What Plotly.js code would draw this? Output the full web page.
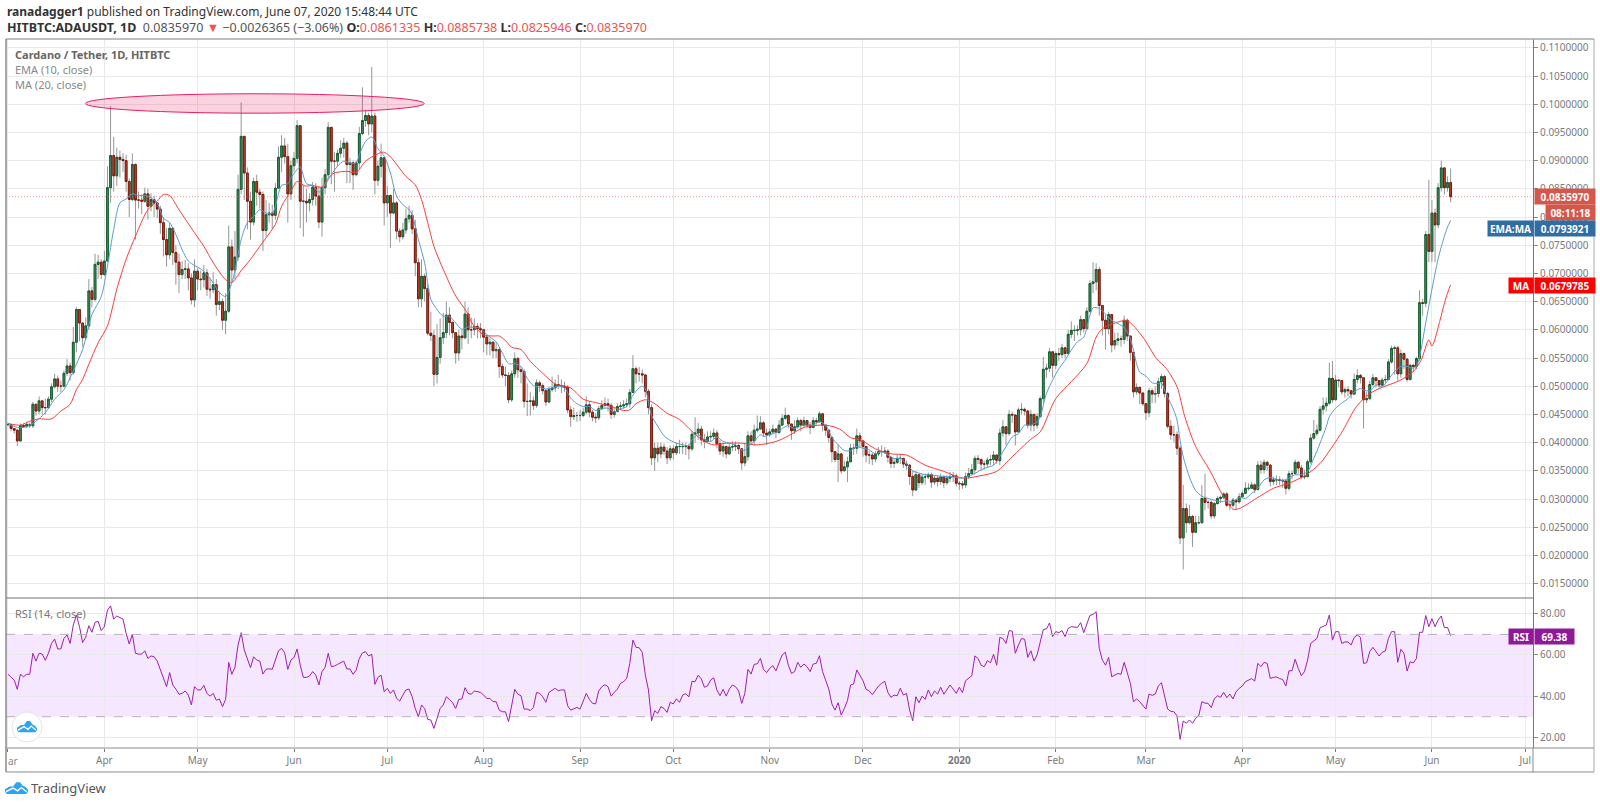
<!DOCTYPE html>
<html><head><meta charset="utf-8">
<script src="https://cdn.plot.ly/plotly-3.0.1.min.js"></script>
<style>html,body{margin:0;padding:0;background:#fff}#c{width:1600px;height:805px}</style>
</head><body><div id="c"></div>
<script>
// values are price x 10000, day 0 = 2019-03-01
const closes=[432,425,422,403,430,429,432,430,468,456,
474,462,462,477,499,513,500,500,523,536,
524,578,636,612,586,607,669,654,716,720,
698,722,852,909,873,906,902,900,863,831,
893,830,830,828,841,819,831,825,814,790,
760,733,780,737,720,698,707,708,692,653,
704,690,689,701,672,671,680,645,650,617,
633,747,706,729,849,943,878,828,791,863,
844,840,776,804,807,803,851,906,926,907,
841,891,904,962,828,828,825,831,853,837,
791,852,875,959,899,899,913,922,931,893,
896,875,896,948,971,980,965,979,865,890,
905,825,838,807,825,775,765,777,797,803,
779,719,655,695,673,594,590,521,551,586,
595,626,613,595,559,589,586,628,600,600,
606,602,600,587,575,578,563,565,535,520,
519,476,522,549,529,526,473,473,474,466,
506,501,492,472,494,497,503,501,500,498,
458,446,448,448,448,454,467,454,445,444,
460,466,469,466,450,455,464,465,467,469,
489,531,522,522,520,491,462,373,390,380,
392,385,373,389,382,393,393,393,393,389,
415,417,424,405,402,410,411,417,398,385,
393,380,392,393,395,389,364,375,412,403,
422,424,435,417,414,419,424,418,431,443,
448,433,421,428,439,431,439,431,427,439,
437,451,431,422,409,384,370,380,350,357,
366,390,390,412,403,393,378,378,371,380,
384,384,385,374,363,365,372,372,362,360,
340,316,343,329,339,339,343,330,337,331,
339,329,337,340,341,328,327,325,340,345,
352,372,370,362,362,369,370,378,368,417,
428,416,450,449,419,458,459,456,431,450,
431,446,478,530,532,561,537,558,556,568,
558,592,599,599,600,618,602,633,682,685,
707,643,617,602,627,573,581,584,583,617,
589,560,490,498,488,469,453,492,486,487,
508,517,487,429,414,414,390,231,283,258,
269,241,258,258,301,294,294,270,292,301,
303,309,289,289,298,295,304,310,319,319,
325,317,360,352,365,360,331,334,334,333,
332,319,345,345,365,355,339,340,366,408,
416,422,459,465,470,514,476,511,510,490,
494,492,486,512,519,515,476,478,503,515,
510,502,511,512,543,567,568,522,558,548,
512,537,535,549,648,647,769,739,807,786,
852,887,852,861,836];
const highs=[436,433,426,424,434,434,437,436,472,468,
482,476,478,482,505,522,519,510,528,548,
542,605,640,632,607,622,690,676,735,733,
725,740,890,997,942,923,918,913,910,868,
913,895,845,840,852,850,842,838,826,820,
800,780,790,780,750,735,722,724,718,700,
725,710,705,715,708,692,702,690,668,655,
665,785,760,775,875,1003,925,888,845,870,
875,850,845,830,825,822,860,925,945,940,
930,900,915,972,880,855,850,842,862,860,
855,870,885,968,925,915,920,936,940,935,
905,900,900,960,1030,990,985,1066,985,900,
930,905,855,840,850,828,780,790,815,820,
812,795,727,725,700,680,632,600,610,620,
630,650,640,615,590,600,600,650,640,622,
620,612,612,602,590,585,580,578,568,540,
535,525,528,560,552,535,530,505,490,482,
512,510,505,495,500,517,512,520,512,508,
502,465,462,455,458,462,482,473,458,452,
465,475,480,478,470,462,470,472,475,478,
495,555,535,534,530,520,495,468,400,400,
400,398,392,395,395,400,405,400,400,398,
420,445,435,430,415,420,420,425,422,405,
400,395,398,402,402,398,390,400,420,420,
432,448,447,438,425,425,432,425,440,450,
462,450,430,440,445,442,446,440,437,445,
444,455,440,430,418,412,385,397,382,368,
375,398,398,425,418,398,392,385,382,385,
392,395,392,388,375,372,378,378,372,368,
362,350,350,345,345,345,347,347,342,342,
345,342,342,348,348,345,332,332,347,355,
362,377,378,372,368,374,378,385,378,425,
440,425,458,455,432,462,470,462,458,458,
448,452,482,552,540,568,545,562,568,575,
570,600,615,608,608,625,610,640,688,720,
718,712,635,626,632,625,595,595,590,625,
620,570,560,505,498,478,470,497,496,500,
515,522,520,490,440,430,420,395,325,292,
290,272,270,270,325,345,298,298,295,305,
306,312,312,295,302,298,310,315,330,328,
330,328,367,368,370,368,362,340,342,340,
336,332,350,350,370,368,360,352,370,415,
440,432,465,480,480,542,545,520,512,510,
498,500,492,522,530,522,515,490,510,522,
515,510,515,520,548,572,572,572,565,560,
550,540,540,552,670,655,775,866,830,815,
860,900,888,872,886];
const lows=[429,420,416,394,402,426,426,426,426,448,
450,450,450,460,472,496,490,490,498,518,
510,520,560,580,570,582,600,640,650,690,
690,695,720,825,845,855,870,880,845,800,
828,760,815,805,825,795,810,800,798,770,
730,712,725,715,680,665,690,690,670,645,
640,670,670,675,660,655,665,625,635,600,
592,630,685,690,722,840,830,778,760,785,
820,815,740,765,790,778,795,850,880,895,
790,830,880,895,780,765,790,810,820,820,
780,765,840,870,858,845,890,905,905,860,
860,848,872,885,945,960,945,950,840,855,
870,785,800,745,805,760,755,760,770,790,
770,695,640,640,650,590,580,500,505,540,
575,585,590,585,540,545,565,583,575,585,
590,585,585,560,555,555,550,550,515,515,
500,470,472,515,515,505,462,447,448,458,
462,490,485,465,470,490,490,495,488,490,
452,428,440,437,438,445,450,445,438,435,
440,458,462,455,442,444,455,458,460,462,
462,488,505,508,505,480,450,360,350,365,
372,378,362,368,370,378,380,380,378,370,
385,400,405,395,390,400,402,405,390,378,
375,372,378,385,385,380,352,358,368,395,
395,418,425,410,395,410,415,408,415,430,
440,425,405,415,425,420,428,425,415,425,
432,435,420,412,400,365,365,330,345,350,
330,365,378,380,390,375,365,362,360,365,
376,375,380,365,355,355,362,362,355,352,
325,305,315,320,325,325,335,320,325,322,
325,320,325,330,330,322,316,318,320,335,
345,345,362,350,352,355,360,360,362,360,
410,395,412,435,395,418,450,448,425,420,
420,425,445,470,515,525,515,530,545,550,
550,555,585,580,590,590,595,600,630,665,
670,625,590,565,592,560,565,572,570,575,
580,545,480,485,468,465,440,445,470,470,
480,495,480,425,405,400,378,220,175,240,
255,215,250,255,256,280,283,265,265,290,
293,300,285,280,285,280,292,305,310,315,
318,310,315,345,345,350,322,325,325,325,
320,308,315,335,345,345,335,335,338,362,
405,412,420,450,455,467,470,475,498,485,
480,482,478,485,505,505,425,470,475,500,
498,495,500,505,510,540,520,510,515,530,
508,510,525,530,545,625,640,720,720,720,
780,845,840,845,826];
const rsi=[50.6,49,47.8,43.3,50.6,49.4,50.6,50.6,60.8,57,60.8,60.4,57.4,60.8,65.6,67.7,62.9,62.9,68,69.7,
65.6,74.5,79.4,73.7,66,68.5,74.2,71,75.8,76.3,71.8,73.7,81.8,83.8,77.4,78.9,78.3,77.4,70.5,65.3,
70,60.8,60.4,60.4,62,58.3,59.5,59.1,57,53,48.1,44.6,51.4,45.4,43.4,40.9,41.3,42.5,40.5,35.7,
44.6,43,43,45.2,41.3,40,41.3,38,38.6,34.9,38.4,56.4,50.6,54,64.8,70.8,62.4,57.5,53.8,59.1,
57.5,57,50.7,53,53.3,53,57.5,62,63.2,61,53,57.5,58.7,62.9,55,49.1,49.1,49.8,51.9,50.2,
45.4,51.9,54,60.8,54.3,54.6,55.4,56.4,57,53.2,53.2,50.6,52.7,58.3,61,61.6,59.5,60.3,45.7,49.1,
50.2,42.1,43.8,41.3,43,38.9,37.6,40.5,43,43.4,39.7,34,30,35.7,34,28.7,28.4,24.3,29.2,34,
35.7,39.7,38.4,36.8,34,38.4,38.6,44.1,41.3,40.9,42.5,42,41.8,40.5,38.9,38.9,37.3,37.3,33.2,
32.4,32.4,27.6,36.5,43.3,40.9,40.2,33.7,33.7,33,34.5,41.8,41.3,39.7,37,41.8,42.6,43.8,42.6,43,
43,35.3,33.2,34,34.5,33.7,37.3,41.3,38.4,36.5,36.2,42.5,44.6,45.5,44.6,40,41.8,43.4,46.2,47,
48.6,55.9,67.2,63.7,63.5,61.3,50.2,43,28,32.9,31.6,34.9,34,32.1,37,36.2,38.7,37,40.5,41.2,
39.6,47.2,47,50.2,48.3,44.3,44.9,47.8,48.9,43,40.2,43.3,40,43.4,45.4,44.6,42.5,36.5,41.3,53,
50.7,55.4,55.7,58.3,53,51.4,53.5,54.8,52.3,56.7,60,61.3,55,51,51.9,56.4,54,55.6,54.3,51.9,
55.6,55.9,59.6,51.9,47.8,43.4,36.2,33.2,36.8,30.8,34,37.8,45.4,45.9,52.7,50.2,47.5,43.3,42.5,40.7,
43,44.9,46.2,47.2,41.8,39.4,40.5,40.2,43.8,40.5,41.3,33.2,28,39.7,36.8,40,38.4,43,39.7,42.5,
41,44.3,40.9,43.4,45.4,43.4,41.3,44.3,41.7,47.5,48.9,49.9,59.5,58.3,55,54.3,57.2,56.2,60.3,55,68.5,
68,65.6,71.8,71.6,60.8,64.8,68,67.6,58.8,62,57,60,65.6,72.4,72.6,75.5,68.9,71.3,70.8,71.8,
68.9,72.9,73.7,73.4,73.4,75.7,70.8,75,79.2,79.7,81,63.2,57.5,55,58.8,49.4,50.2,51,50.6,56.4,
51.4,46.2,37.3,38.6,37.3,35.3,33.7,41,40.4,41,45,46.5,40.5,33.7,32.6,32.4,30.5,19,27.9,26.8,
28.4,26.8,29.2,30.5,37.3,36.6,36.5,34.4,38.6,40.2,39.4,41.8,39.2,41,38.6,42.1,43.8,44.9,47,47.8,
48.5,47.3,55.9,54.3,56.4,55.9,48.6,49.1,49.3,48.5,48.1,44.9,52.3,52.3,57.9,53.5,49.9,51.9,57.5,65.6,
66.8,68,73.2,74,74.5,79.4,67.2,71.3,71.3,65.6,66.3,66.3,64.8,68.5,69.7,68.5,55.9,56.2,61.6,63.7,
61.7,59.5,61.3,61.9,68,71.3,71.3,56.4,62.7,60.8,52.2,56.7,56.1,58.3,71,71,79.1,73.7,77.6,73.7,
77,78.9,73.2,73.4,69.38];
const emaDays=[0,3,6,9,12,15,18,21,24,27,30,32,34,36,38,40,42,44,46,48,50,52,54,56,58,60,62,64,66,68,70,72,73,75,77,79,81,83,85,86,88,90,91,93,94,96,98,100,102,104,106,108,110,112,113,115,117,119,121,123,125,127,129,130,132,134,136,138,140,142,144,146,148,150,152,153,155,157,159,161,163,165,167,169,171,173,175,177,179,181,183,185,187,189,191,193,195,197,199,201,203,204,205,207,209,211,213,215,217,219,220,222,224,226,228,230,232,234,236,237,238,240,242,243,245,247,249,251,253,255,257,259,261,263,265,267,269,271,273,275,277,279,281,283,285,287,289,291,293,295,297,299,301,303,305,307,309,311,313,315,317,319,321,323,325,327,329,331,332,334,336,338,340,342,344,346,348,349,351,353,355,357,359,361,363,364,366,368,370,371,372,374,375,376,377,378,380,382,384,386,388,390,392,394,396,398,400,402,404,406,408,410,412,414,416,418,420,422,424,425,427,429,431,433,435,436,438,440,442,444,446,448,450,452,453,454,456,458,460,462,463,464];
const emaVals=[434,427,428,438,453,477,494,527,565,627,659,713,778,825,832,841,838,838,834,825,798,790,769,742,722,714,708,698,683,666,659,683,704,760,790,801,813,807,806,819,856,859,869,884,889,859,856,844,857,875,890,899,896,896,910,934,942,921,908,878,837,822,813,804,760,719,654,636,624,624,612,601,605,604,604,597,587,579,559,540,540,535,514,501,498,495,497,500,497,479,469,464,464,457,460,461,454,460,464,484,497,500,495,448,429,412,404,399,396,395,405,414,405,402,410,402,399,396,387,386,393,402,414,411,414,418,425,430,425,430,431,431,437,431,409,396,386,386,393,390,387,380,384,378,372,372,362,350,346,343,343,341,340,340,338,337,341,345,352,356,360,375,393,410,416,431,431,437,446,487,511,531,546,564,579,587,626,639,638,628,617,611,604,584,540,525,518,506,505,506,493,469,457,440,404,375,339,315,305,301,298,295,297,295,303,301,310,319,334,338,335,333,337,343,343,349,372,399,428,446,461,470,478,490,496,493,492,502,499,512,526,535,535,532,535,552,612,672,726,766,782,794];
const maDays=[0,4,7,10,14,17,20,22,24,26,29,32,35,38,41,45,48,50,52,55,60,63,66,70,72,75,78,81,83,86,88,91,93,95.5,98,101,103,105,109,112,115,117.5,120.7,122.8,128,131,133,135,137,140,144,147.5,149.6,153,156,158,160,162,165,168,172,176,181,185,189,194,198,200,202,205,207.5,212,216,220,224,227,231,236,241,247,251,256,263,267.5,271,274.5,279,284,289,295,301,307,312.5,318,323,329,332,337,342,347,350,352,356,360,365,369.4,372.6,376,378.5,382,386.5,391,394,396,401.5,407,412,417.6,422,425.6,429.4,433.7,438,442,447.6,452,454.5,457,458,460.5,462,463,464];
const maVals=[434,431,438,442,442,456,468,494,512,539,577,607,672,725,766,813,828,840,838,813,772,748,719,689,684,705,725,748,763,787,819,846,863,855,856,853,869,878,881,879,899,908,915,908,872,857,831,790,748,707,660,632,609,591,589,589,581,569,565,544,523,504,497,477,471,464,457,458,469,476,471,452,441,420,402,396,399,399,396,402,412,427,431,424,409,404,389,380,378,360,349,337,341,349,375,406,419,478,508,540,587,602,612,616,587,549,531,499,446,393,351,304,282,283,301,319,328,343,363,390,422,464,487,498,510,526,546,582,571,615,647,665,679.8];
const priceTicks=[0.015,0.02,0.025,0.03,0.035,0.04,0.045,0.05,0.055,0.06,0.065,0.07,0.075,0.08,0.085,0.09,0.095,0.1,0.105,0.11];
const rsiTicks=[20,40,60,80];
const monthDates=['2019-04-01','2019-05-01','2019-06-01','2019-07-01','2019-08-01','2019-09-01','2019-10-01','2019-11-01','2019-12-01','2020-01-01','2020-02-01','2020-03-01','2020-04-01','2020-05-01','2020-06-01','2020-07-01'];
const monthNames=['Apr','May','Jun','Jul','Aug','Sep','Oct','Nov','Dec','<b>2020</b>','Feb','Mar','Apr','May','Jun','Jul'];

const UNIT=0.0001, START=Date.UTC(2019,2,1), DAY=864e5;
const dayStr=d=>new Date(START+d*DAY).toISOString().slice(0,19).replace('T',' ');
const n=Math.min(closes.length,highs.length,lows.length);
const X=[],O=[],H=[],L=[],C=[],BH=[],BL=[];
for(let i=0;i<n;i++){
  const o=i?closes[i-1]:closes[0], c=closes[i];
  X.push(dayStr(i));O.push(o*UNIT);C.push(c*UNIT);
  H.push(Math.max(highs[i],o,c)*UNIT);L.push(Math.min(lows[i],o,c)*UNIT);
  BH.push(Math.max(o,c)*UNIT);BL.push(Math.min(o,c)*UNIT);
}
// a small annotation-free fix: maDays must line up with maVals
const maN=Math.min(maDays.length,maVals.length), emaN=Math.min(emaDays.length,emaVals.length);
const WICK='#969696';
const traces=[
 {type:'candlestick',x:X,open:O,high:H,low:L,close:C,xaxis:'x',yaxis:'y',whiskerwidth:0,
  increasing:{line:{color:WICK,width:1},fillcolor:WICK},decreasing:{line:{color:WICK,width:1},fillcolor:WICK},hoverinfo:'skip',showlegend:false},
 {type:'candlestick',x:X,open:O,high:BH,low:BL,close:C,xaxis:'x',yaxis:'y',whiskerwidth:0,
  increasing:{line:{color:'#14602f',width:1},fillcolor:'#4b8a68'},decreasing:{line:{color:'#7d1a0c',width:1},fillcolor:'#c8402c'},hoverinfo:'skip',showlegend:false},
 {type:'scatter',mode:'lines',x:maDays.slice(0,maN).map(dayStr),y:maVals.slice(0,maN).map(v=>v*UNIT),xaxis:'x',yaxis:'y',line:{color:'#ff3b3b',width:1,shape:'spline',smoothing:0.8},hoverinfo:'skip',showlegend:false},
 {type:'scatter',mode:'lines',x:emaDays.slice(0,emaN).map(dayStr),y:emaVals.slice(0,emaN).map(v=>v*UNIT),xaxis:'x',yaxis:'y',line:{color:'#5a9bd0',width:1,shape:'spline',smoothing:0.8},hoverinfo:'skip',showlegend:false},
 {type:'scatter',mode:'lines',x:rsi.map((_,i)=>dayStr(i)),y:rsi,xaxis:'x',yaxis:'y2',line:{color:'#9c1fb0',width:1},hoverinfo:'skip',showlegend:false}
];
const PL=6,PR=1533,PT=38.5,PB=748,DIV=598;
const W=PR-PL,Ht=PB-PT;
const px=x=>(x-PL)/W, py=y=>(PB-y)/Ht;
const FONT='"Noto Sans",sans-serif';
const ann=(text,x,y,o={})=>({text,x:px(x),y:py(y),xref:'paper',yref:'paper',xanchor:'left',yanchor:'middle',showarrow:false,borderpad:0,
  font:{family:FONT,size:o.size||11,color:o.color||'#555'}});
const tag=(text,x0,x1,y,bg,size)=>Object.assign(ann(text,x0,y,{color:'#fff',size:size||10}),{bgcolor:bg,width:x1-x0,height:15,align:'center'});
const S='#ef5350';
const annotations=[
 ann('<b>ranadagger1</b> published on TradingView.com, June 07, 2020 15:48:44 UTC',6,11,{size:12,color:'#333'}),
 ann('<b>HITBTC:ADAUSDT, 1D</b>  <span style="color:#555">0.0835970</span> <span style="color:'+S+'">▼</span> <span style="color:#555">−0.0026365 (−3.06%)</span> <b>O:</b><span style="color:'+S+'">0.0861335</span> <b>H:</b><span style="color:'+S+'">0.0885738</span> <b>L:</b><span style="color:'+S+'">0.0825946</span> <b>C:</b><span style="color:'+S+'">0.0835970</span>',6,27,{size:12.5,color:'#333'}),
 ann('<b>Cardano / Tether, 1D, HITBTC</b>',14,54,{size:11,color:'#666'}),
 ann('EMA (10, close)',14,69,{size:11,color:'#888'}),
 ann('MA (20, close)',14,84,{size:11,color:'#888'}),
 ann('RSI (14, close)',14,613,{size:11,color:'#777'}),
 ann('ar',6.5,761.5,{size:10,color:'#888'}),
 tag('<b>0.0835970</b>',1534,1594,196.5,'#d4574a'),
 tag('<b>08:11:18</b>',1545,1594,212.5,'#d4574a'),
 tag('<b>EMA:MA</b>',1487,1532,228,'#2f6da4'),
 tag('<b>0.0793921</b>',1534,1594,228,'#2f6da4'),
 tag('<b>MA</b>',1508,1532,285,'#ff0000'),
 tag('<b>0.0679785</b>',1534,1594,285,'#ff0000'),
 tag('<b>RSI</b>',1508,1532,636,'#8e1a99'),
 tag('<b>69.38</b>',1534,1573,636,'#8e1a99'),
 ann('TradingView',30,788,{size:13,color:'#555'})
];
const logoBody=[[-1,.6],[-1,.2],[-.6,-.25],[-.3,-.25],[-.02,-.95],[.3,-.95],[.55,-.35],[.8,-.15],[1,.3],[1,.6],[.85,1],[-.85,1]];
const logoStripe=[[-.9,.62],[-.3,.02],[.1,.48],[.42,-.08],[.88,.62]];
const scaled=(pts,cx,cy,hw,hh)=>pts.map(p=>(px(cx+p[0]*hw))+','+(py(cy+p[1]*hh)));
const logo=(cx,cy,hw,hh)=>[
 {type:'path',xref:'paper',yref:'paper',path:'M'+scaled(logoBody,cx,cy,hw,hh).join('L')+'Z',fillcolor:'#2ea3f2',line:{width:0}},
 {type:'path',xref:'paper',yref:'paper',path:'M'+scaled(logoStripe,cx,cy,hw,hh).join('L'),line:{color:'#fff',width:1.3}}
];
const line=(x0,y0,x1,y1,color,w,dash)=>({type:'line',xref:'paper',yref:'paper',x0:px(x0),y0:py(y0),x1:px(x1),y1:py(y1),line:{color,width:w||1,dash:dash||'solid'}});
const shapes=[
 {type:'rect',xref:'paper',yref:'y2',x0:0,x1:1,y0:30,y1:70,fillcolor:'rgba(153,21,255,0.10)',line:{width:0},layer:'below'},
 {type:'line',xref:'paper',yref:'y2',x0:0,x1:1,y0:70,y1:70,line:{color:'#b8b0bc',width:1,dash:'dash'}},
 {type:'line',xref:'paper',yref:'y2',x0:0,x1:1,y0:30,y1:30,line:{color:'#b8b0bc',width:1,dash:'dash'}},
 {type:'line',xref:'paper',yref:'y',x0:0,x1:1,y0:0.083597,y1:0.083597,line:{color:'rgba(224,88,76,0.75)',width:0.8,dash:'1px,2px'}},
 {type:'circle',xref:'x',yref:'y',x0:dayStr(24.9),x1:dayStr(133.9),y0:0.09841,y1:0.10185,fillcolor:'rgba(233,30,99,0.2)',line:{color:'#e91e63',width:1}},
 line(PL,DIV,PR,DIV,'#a0a0a0',1.5),
 line(PL,PT,1594,PT,'#a8a8a8',1.5),
 line(PL,PT,PL,772,'#8a8a8a',1.5),
 line(PL,772,1594,772,'#8a8a8a',1),
 line(1594,PT,1594,772,'#a8a8a8',1),
 line(PL,PB,PR,PB,'#8a8a8a',1),
 line(PR,PB,PR,772,'#8a8a8a',1),
 line(PR,PB,1594,PB,'#8a8a8a',1),
 {type:'circle',xref:'paper',yref:'paper',x0:px(12),x1:px(42),y0:py(742),y1:py(712),fillcolor:'#fff',line:{color:'#e4e4e4',width:1}}
].concat(logo(27,726.5,10,5.8),logo(16.5,788,11.5,6));
const tickFont={family:FONT,size:10,color:'#7a7a7a'};
const layout={
 width:1600,height:805,autosize:false,paper_bgcolor:'#fff',plot_bgcolor:'#fff',
 margin:{l:PL,r:1600-PR,t:PT,b:805-PB,pad:0},showlegend:false,boxmode:'overlay',boxgap:0.18,
 xaxis:{type:'date',domain:[0,1],anchor:'y2',range:['2019-02-28 08:40:00','2020-07-03 12:00:00'],rangeslider:{visible:false},
   tickmode:'array',tickvals:monthDates.concat(['2019-03-01']),ticktext:monthNames.concat(['']),showgrid:true,gridcolor:'#e9e9e9',gridwidth:1,
   ticks:'outside',ticklen:3,tickcolor:'#777',tickfont:tickFont,showline:false,zeroline:false,automargin:false},
 yaxis:{domain:[(PB-DIV)/Ht,1],anchor:'x',side:'right',range:[0.012431,0.11156],tickmode:'array',tickvals:priceTicks,ticktext:priceTicks.map(v=>v.toFixed(7)),
   showgrid:true,gridcolor:'#e9e9e9',gridwidth:1,ticks:'outside',ticklen:4,tickcolor:'#888',tickfont:tickFont,showline:true,linecolor:'#777',linewidth:1,zeroline:false,automargin:false},
 yaxis2:{domain:[0,(PB-DIV)/Ht],anchor:'x',side:'right',range:[14.8,87.6],tickmode:'array',tickvals:rsiTicks,ticktext:rsiTicks.map(v=>v.toFixed(2)),
   showgrid:true,gridcolor:'#e9e9e9',gridwidth:1,ticks:'outside',ticklen:4,tickcolor:'#888',tickfont:tickFont,showline:true,linecolor:'#777',linewidth:1,zeroline:false,automargin:false},
 annotations,shapes
};
Plotly.newPlot('c',traces,layout,{displayModeBar:false,staticPlot:true});
</script></body></html>
